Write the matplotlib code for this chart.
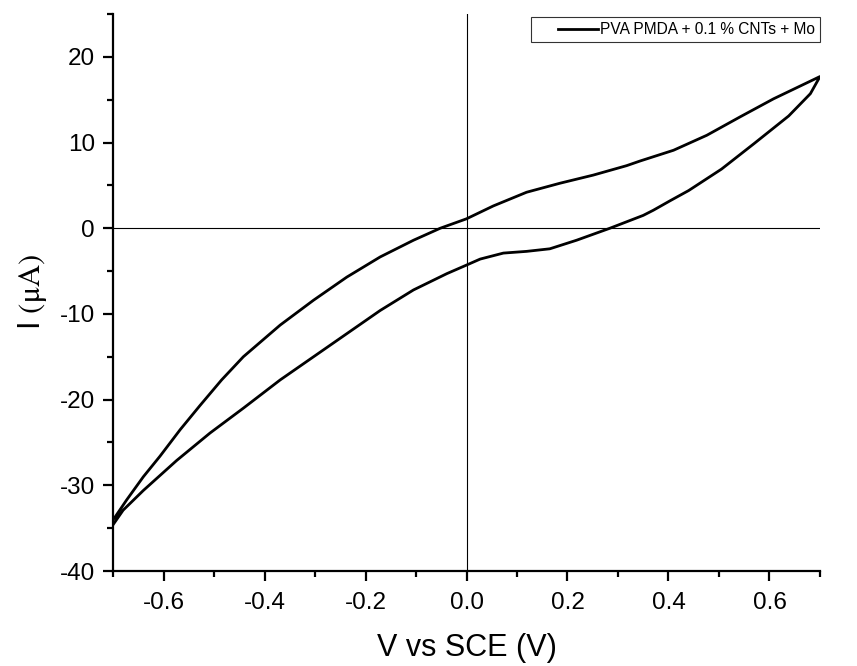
import numpy as np
import matplotlib
matplotlib.use("Agg")
import matplotlib.pyplot as plt
from matplotlib.ticker import MultipleLocator
from matplotlib.legend_handler import HandlerLine2D

plt.rcParams['font.family'] = ['Liberation Sans', 'DejaVu Sans']
plt.rcParams['axes.unicode_minus'] = False
plt.rcParams['mathtext.fontset'] = 'stix'

# forward sweep (upper branch)
v_up = [-0.700, -0.696, -0.673, -0.640, -0.607, -0.567, -0.528, -0.485, -0.442,
        -0.369, -0.303, -0.237, -0.171, -0.105, -0.052, 0.000, 0.053, 0.119,
        0.185, 0.251, 0.317, 0.344, 0.410, 0.476, 0.542, 0.608, 0.700]
i_up = [-34.0, -33.7, -31.7, -29.0, -26.6, -23.5, -20.7, -17.7, -15.0,
        -11.3, -8.4, -5.7, -3.35, -1.4, 0.0, 1.1, 2.6, 4.2,
        5.25, 6.2, 7.3, 7.85, 9.1, 10.85, 13.0, 15.1, 17.7]

# reverse sweep (lower branch), from +0.7 back to -0.7
v_down = [0.700, 0.681, 0.638, 0.570, 0.505, 0.440, 0.403, 0.370, 0.350, 0.284,
          0.218, 0.165, 0.119, 0.073, 0.027, 0.000, -0.039, -0.105, -0.171,
          -0.237, -0.303, -0.369, -0.442, -0.508, -0.574, -0.640, -0.680, -0.700]
i_down = [17.7, 15.7, 13.1, 9.9, 6.9, 4.4, 3.2, 2.1, 1.5, 0.0,
          -1.4, -2.4, -2.7, -2.9, -3.6, -4.3, -5.3, -7.2, -9.6,
          -12.3, -15.0, -17.7, -21.0, -23.9, -27.1, -30.6, -32.9, -34.6]

label = 'PVA PMDA + 0.1 % CNTs + Mo'


class PaddedLine(HandlerLine2D):
    # legend line that leaves some empty room on its left
    def create_artists(self, legend, orig_handle, xdescent, ydescent, width,
                       height, fontsize, trans):
        artists = super().create_artists(legend, orig_handle, xdescent, ydescent,
                                         width, height, fontsize, trans)
        for a in artists:
            xd = np.asarray(a.get_xdata(), dtype=float)
            if len(xd) > 1:
                a.set_xdata(np.clip(xd, xd.min() + 0.36 * width, None))
        return artists


fig = plt.figure(figsize=(8.57, 6.66), dpi=100)
ax = fig.add_axes([0.1319, 0.1426, 0.8249, 0.8364])

v = v_up + v_down[1:]
i = i_up + i_down[1:]
line, = ax.plot(v, i, color='black', lw=2.0, label=label,
                solid_joinstyle='round', zorder=3)

ax.axhline(0, color='black', lw=0.8, zorder=1)
ax.axvline(0, color='black', lw=0.8, zorder=1)

ax.set_xlim(-0.7, 0.7)
ax.set_ylim(-40, 25)
ax.set_xticks([-0.6, -0.4, -0.2, 0.0, 0.2, 0.4, 0.6])
ax.xaxis.set_minor_locator(MultipleLocator(0.1))
ax.set_yticks([-40, -30, -20, -10, 0, 10, 20])
ax.yaxis.set_minor_locator(MultipleLocator(5))

ax.spines['top'].set_visible(False)
ax.spines['right'].set_visible(False)
ax.spines['left'].set_linewidth(1.6)
ax.spines['bottom'].set_linewidth(1.6)
ax.tick_params(which='major', direction='out', length=7, width=1.6, labelsize=17.5)
ax.tick_params(axis='x', which='major', pad=8)
ax.tick_params(axis='y', which='major', pad=6)
ax.tick_params(which='minor', direction='out', length=4, width=1.6)

ax.set_xlabel('V vs SCE (V)', fontsize=22, labelpad=14)
ax.set_ylabel(r'I $(\mathrm{μA})$', fontsize=22, labelpad=8)

leg = ax.legend(handles=[line], loc='upper right', bbox_to_anchor=(1.0, 0.994),
                fontsize=11.2, frameon=True, fancybox=False, borderaxespad=0,
                handlelength=4.0, handletextpad=0.15, borderpad=0.3,
                handler_map={line: PaddedLine()})
leg.get_frame().set_edgecolor('black')
leg.get_frame().set_linewidth(0.8)

fig.savefig('out.png', dpi=100)
